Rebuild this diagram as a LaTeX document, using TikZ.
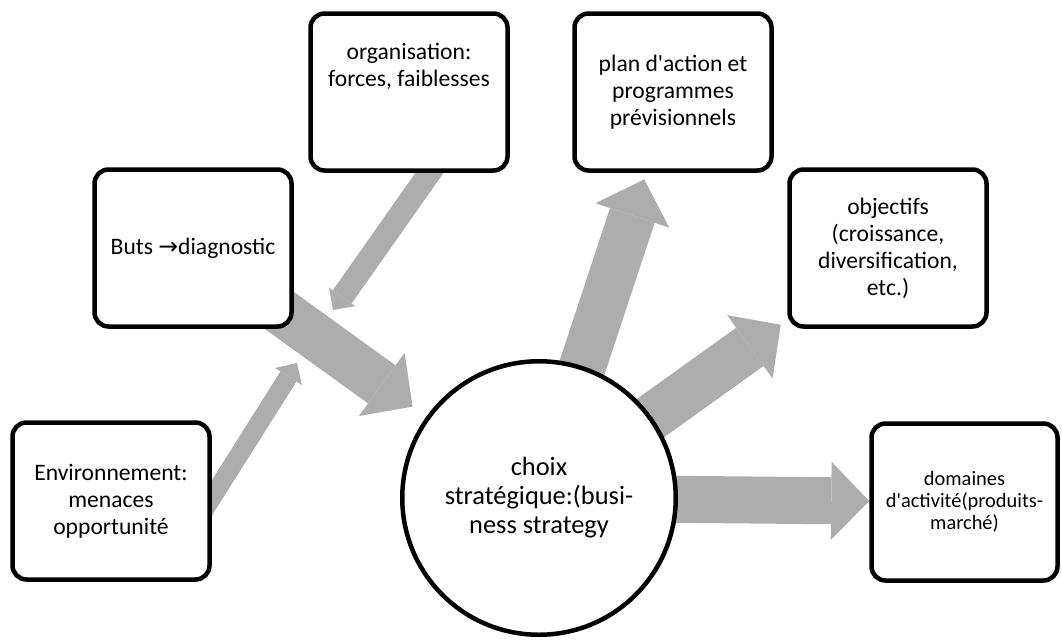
\documentclass[tikz,border=0pt]{standalone}
\usepackage{fontspec}
\setmainfont{Carlito}
\newfontfamily\symfont{DejaVu Sans}
\usetikzlibrary{arrows.meta,backgrounds}
\definecolor{arrowgray}{RGB}{173,173,173}

\begin{document}
\begin{tikzpicture}[x=0.5pt,y=-0.5pt,
  box/.style={draw,line width=2.25pt,rounded corners=7pt,fill=white,align=center,
    minimum width=98.5pt,minimum height=78.5pt,font=\fontsize{11.8}{13.5}\selectfont},
  fatarrow/.style={draw=arrowgray,line width=23.5pt,-{Triangle[width=39pt,length=19pt,line width=0pt]}},
  thinarrow/.style={draw=arrowgray,line width=9.5pt,-{Triangle[width=16pt,length=8pt,line width=0pt]}}]

\useasboundingbox (0,0) rectangle (1062,639);

% the boxes round the centre
\node[box] (env) at (111,501) {Environnement:\\menaces\\opportunité};
\node[box] (buts) at (193,248) {Buts {\symfont →}diagnostic};
\node[box] (org) at (409,92) {organisation:\\forces, faiblesses\\~\\~};
\node[box] (plan) at (673,92) {plan d\textquotesingle action et\\programmes\\prévisionnels};
\node[box] (obj) at (888,248) {objectifs\\(croissance,\\diversification,\\etc.)};
\node[box,minimum width=93pt,font=\fontsize{10.2}{11}\selectfont] (dom) at (964.5,502) {domaines\\d\textquotesingle activité(produits-\\marché)};

% centre
\node[draw,circle,line width=2.25pt,fill=white,minimum size=136.75pt,align=center,
  font=\fontsize{13.2}{14.5}\selectfont] (choix) at (539,498) {choix\\stratégique:(busi-\\ness strategy};

\coordinate (g1) at (297,363);
\coordinate (g2) at (333,310);

\begin{scope}[on background layer]
\draw[thinarrow] ([shift={(-12,16)}]env.east) -- (g1);
\draw[thinarrow,line width=11.5pt] ([shift={(29,-12)}]org.south) -- (g2);
\draw[fatarrow,shorten >=8.5pt] (buts.center) -- (choix);
\draw[fatarrow,shorten >=3.5pt] (choix.center) -- (plan);
\draw[fatarrow,shorten >=4pt] (choix.center) -- (obj);
\draw[fatarrow] (choix.center) -- (dom);
\end{scope}
\end{tikzpicture}
\end{document}
